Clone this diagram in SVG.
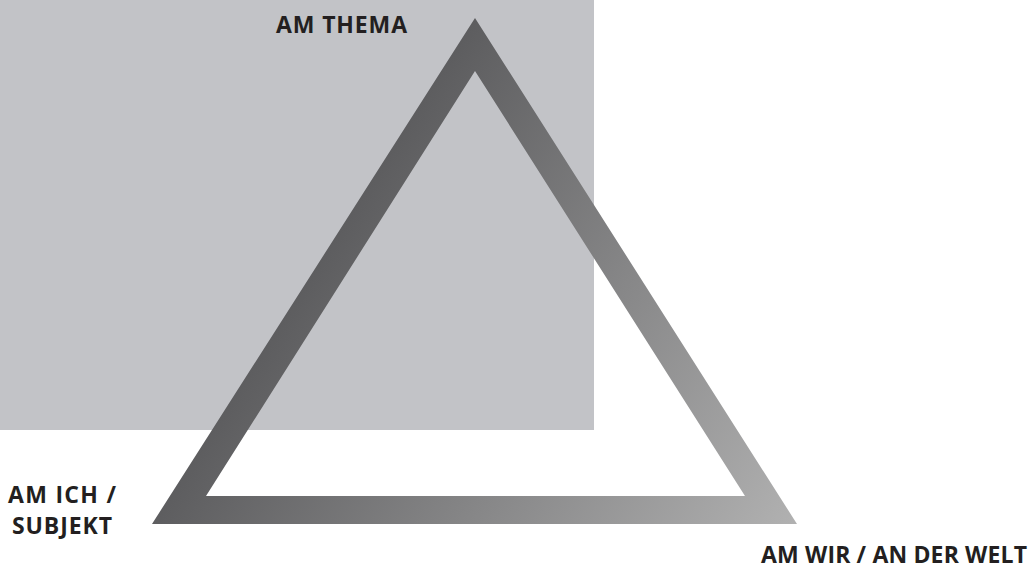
<svg xmlns="http://www.w3.org/2000/svg" width="1032" height="570" viewBox="0 0 1032 570">
  <defs>
    <linearGradient id="triGrad" gradientUnits="userSpaceOnUse" x1="312" y1="271" x2="770" y2="565">
      <stop offset="0" stop-color="#5d5d5f"/>
      <stop offset="1" stop-color="#b1b1b1"/>
    </linearGradient>
  </defs>
  <style>
    .label { font-family: "Open Sans", "Liberation Sans", sans-serif; font-weight: bold; font-size: 23px; fill: #231f20; }
  </style>
  <rect width="1032" height="570" fill="#ffffff"/>
  <g id="background-panel">
    <rect x="0" y="0" width="594" height="430" fill="#c2c3c7"/>
  </g>
  <g id="triangle">
    <path d="M475,18 L797,524 L152,524 Z M475,71 L206,496 L745,496 Z" fill="url(#triGrad)" fill-rule="evenodd"/>
  </g>
  <g id="connectors"></g>
  <g id="node-thema">
    <text class="label" x="276" y="33" textLength="131" lengthAdjust="spacing">AM THEMA</text>
  </g>
  <g id="node-ich">
    <text class="label" x="8" y="503" textLength="108" lengthAdjust="spacing">AM ICH /</text>
    <text class="label" x="12" y="534" textLength="100" lengthAdjust="spacing">SUBJEKT</text>
  </g>
  <g id="node-wir">
    <text class="label" x="761" y="563" textLength="266" lengthAdjust="spacing">AM WIR / AN DER WELT</text>
  </g>
</svg>
